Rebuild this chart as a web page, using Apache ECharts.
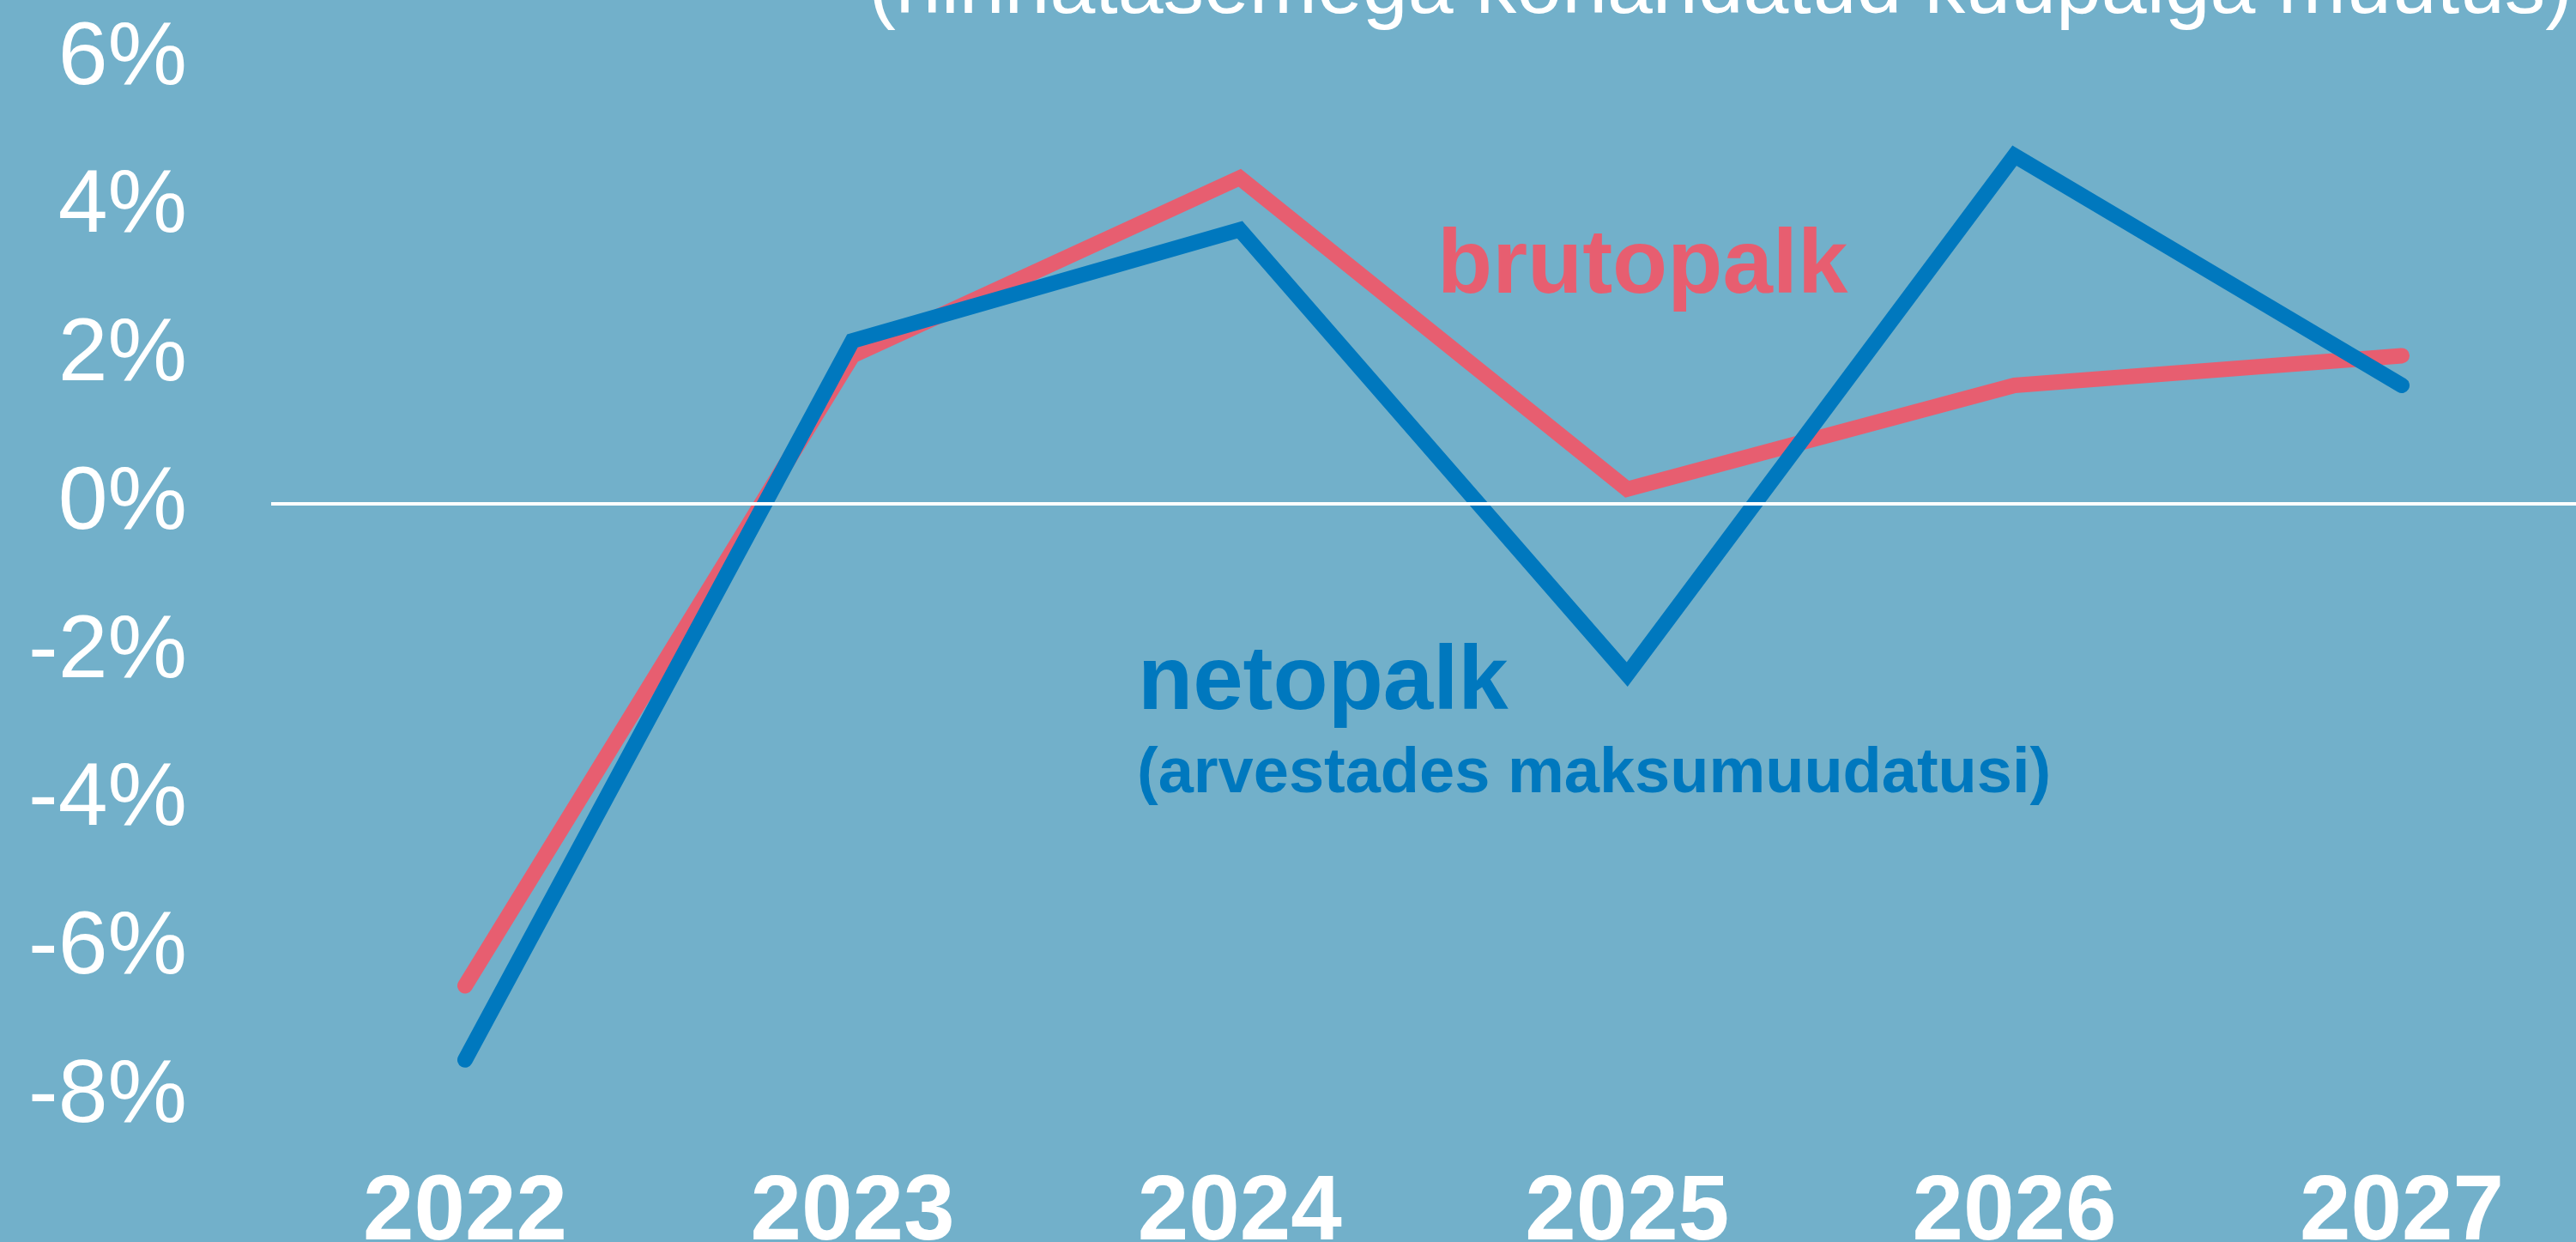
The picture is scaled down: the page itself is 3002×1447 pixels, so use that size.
<!DOCTYPE html>
<html>
<head>
<meta charset="utf-8">
<script src="https://cdn.jsdelivr.net/npm/echarts@6/dist/echarts.min.js"></script>
<style>
  html, body { margin: 0; padding: 0; background: #72b0ca; }
  #chart { width: 3002px; height: 1447px; }
</style>
</head>
<body>
<div id="chart"></div>
<script>
const years = ['2022', '2023', '2024', '2025', '2026', '2027']
const brutopalk = [-6.5, 2.0, 4.4, 0.2, 1.6, 2.0]
const netopalk = [-7.5, 2.2, 3.7, -2.3, 4.7, 1.6]

const FONT = '"Liberation Sans", Arial, sans-serif'
const PINK = '#e75e70'
const BLUE = '#0078be'

const chart = echarts.init(document.getElementById('chart'))

chart.setOption({
  backgroundColor: '#72b0ca',
  animation: false,
  grid: {
    left: 542,
    right: 203,
    top: 69,
    height: 1209,
    outerBoundsMode: 'none'
  },
  xAxis: {
    type: 'category',
    data: years,
    boundaryGap: false,
    axisLine: { show: false },
    axisTick: { show: false },
    axisLabel: {
      color: '#fff',
      fontFamily: FONT,
      fontWeight: 'bold',
      fontSize: 107,
      margin: 83
    }
  },
  yAxis: {
    type: 'value',
    min: -8,
    max: 6,
    interval: 2,
    splitLine: { show: false },
    axisLine: { show: false },
    axisTick: { show: false },
    axisLabel: {
      color: '#fff',
      fontFamily: FONT,
      fontSize: 104,
      margin: 324,
      padding: [24, 0, 0, 0],
      formatter: '{value}%'
    }
  },
  graphic: [
    {
      type: 'text', x: 2998, y: -11,
      style: { text: '(hinnatasemega kohandatud kuupalga muutus)', font: '95px ' + FONT, fill: '#fff', align: 'right', verticalAlign: 'middle' }
    },
    {
      type: 'text', x: 1675, y: 312,
      style: { text: 'brutopalk', font: 'bold 105px ' + FONT, fill: PINK, align: 'left', verticalAlign: 'middle' }
    },
    {
      type: 'text', x: 1326, y: 797,
      style: { text: 'netopalk', font: 'bold 105px ' + FONT, fill: BLUE, align: 'left', verticalAlign: 'middle' }
    },
    {
      type: 'text', x: 1325, y: 903,
      style: { text: '(arvestades maksumuudatusi)', font: 'bold 74px ' + FONT, fill: BLUE, align: 'left', verticalAlign: 'middle' }
    }
  ],
  series: [
    {
      name: 'brutopalk',
      type: 'line',
      data: brutopalk,
      showSymbol: false,
      lineStyle: { color: PINK, width: 18, cap: 'round', join: 'miter' },
      markLine: {
        silent: true,
        symbol: 'none',
        label: { show: false },
        lineStyle: { color: '#fff', width: 4, type: 'solid' },
        data: [[{ x: 316, yAxis: 0 }, { x: 3002, yAxis: 0 }]]
      }
    },
    {
      name: 'netopalk',
      type: 'line',
      data: netopalk,
      showSymbol: false,
      lineStyle: { color: BLUE, width: 18, cap: 'round', join: 'miter' }
    }
  ]
})
</script>
</body>
</html>
